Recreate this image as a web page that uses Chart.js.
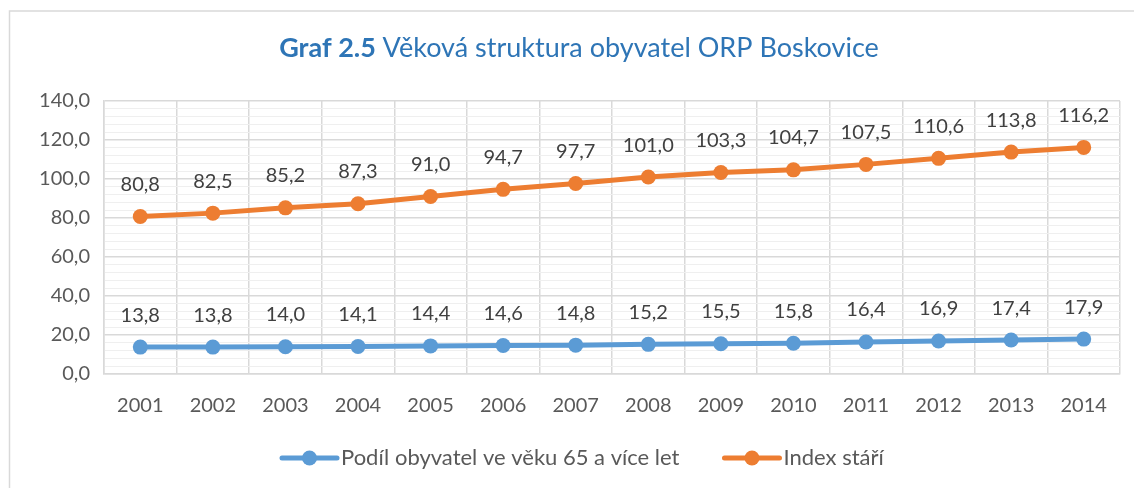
<!DOCTYPE html>
<html lang="cs">
<head>
<meta charset="utf-8">
<script src="https://cdn.jsdelivr.net/npm/chart.js@4"></script>
<style>
  html, body { margin: 0; padding: 0; background: #fff; }
  #wrap { width: 1134px; height: 488px; position: relative; }
</style>
</head>
<body>
<div id="wrap"><canvas id="graf" width="1134" height="488"></canvas></div>
<script>
// data z grafu
const roky = ["2001", "2002", "2003", "2004", "2005", "2006", "2007", "2008", "2009", "2010", "2011", "2012", "2013", "2014"];
const podil65 = [13.8, 13.8, 14.0, 14.1, 14.4, 14.6, 14.8, 15.2, 15.5, 15.8, 16.4, 16.9, 17.4, 17.9];
const indexStari = [80.8, 82.5, 85.2, 87.3, 91.0, 94.7, 97.7, 101.0, 103.3, 104.7, 107.5, 110.6, 113.8, 116.2];
const nazvyRad = ["Podíl obyvatel ve věku 65 a více let", "Index stáří"];
const titulekCislo = "Graf 2.5";
const titulekText = "Věková struktura obyvatel ORP Boskovice";

const modra = "#5B9BD5";
const oranzova = "#ED7D31";
const pismo = "Lato, 'Open Sans', sans-serif";
const fmt = (v) => v.toFixed(1).replace(".", ",");

// rámeček, titulek, popisky hodnot a legenda
const kresliDoplnky = {
  id: "doplnky",
  beforeDraw(chart) {
    const ctx = chart.ctx;
    ctx.save();
    ctx.strokeStyle = "#d9d9d9";
    ctx.lineWidth = 1.5;
    ctx.strokeRect(9.5, 11, 1140, 490);
    ctx.restore();
  },
  afterDatasetsDraw(chart) {
    const ctx = chart.ctx;
    ctx.save();
    // popisky hodnot nad body
    ctx.font = "20px " + pismo;
    ctx.fillStyle = "#404040";
    ctx.textAlign = "center";
    ctx.textBaseline = "middle";
    chart.data.datasets.forEach((ds, i) => {
      const meta = chart.getDatasetMeta(i);
      meta.data.forEach((pt, j) => {
        ctx.fillText(fmt(ds.data[j]), pt.x, pt.y - 32);
      });
    });
    ctx.restore();
  },
  afterDraw(chart) {
    const ctx = chart.ctx;
    ctx.save();
    // titulek
    ctx.textBaseline = "middle";
    ctx.fillStyle = "#2E75B6";
    ctx.font = "bold 27px " + pismo;
    const w1 = ctx.measureText(titulekCislo + " ").width;
    ctx.font = "27px " + pismo;
    const w2 = ctx.measureText(titulekText).width;
    let x = (280 + 878) / 2 - (w1 + w2) / 2;
    ctx.font = "bold 27px " + pismo;
    ctx.textAlign = "left";
    ctx.fillText(titulekCislo + " ", x, 48);
    ctx.font = "27px " + pismo;
    ctx.fillText(titulekText, x + w1, 48);

    // legenda
    ctx.font = "22px " + pismo;
    const barvy = [modra, oranzova];
    const delkaCary = 55;
    const mezera = 4;
    const rozestup = 45;
    let lx = 282;
    const ly = 458;
    nazvyRad.forEach((t, i) => {
      ctx.strokeStyle = barvy[i];
      ctx.lineWidth = 5;
      ctx.lineCap = "round";
      ctx.beginPath();
      ctx.moveTo(lx, ly);
      ctx.lineTo(lx + delkaCary, ly);
      ctx.stroke();
      ctx.fillStyle = barvy[i];
      ctx.beginPath();
      ctx.arc(lx + delkaCary / 2, ly, 7.5, 0, Math.PI * 2);
      ctx.fill();
      ctx.fillStyle = "#595959";
      ctx.fillText(t, lx + delkaCary + mezera, ly);
      lx += delkaCary + mezera + ctx.measureText(t).width + rozestup;
    });
    ctx.restore();
  },
};

new Chart(document.getElementById("graf"), {
  type: "line",
  data: {
    labels: roky,
    datasets: [
      {
        label: nazvyRad[0],
        data: podil65,
        borderColor: modra,
        backgroundColor: modra,
        borderWidth: 5,
        pointRadius: 7.5,
        pointHoverRadius: 7.5,
        pointBorderWidth: 0,
        tension: 0,
      },
      {
        label: nazvyRad[1],
        data: indexStari,
        borderColor: oranzova,
        backgroundColor: oranzova,
        borderWidth: 5,
        pointRadius: 7.5,
        pointHoverRadius: 7.5,
        pointBorderWidth: 0,
        tension: 0,
      },
    ],
  },
  options: {
    responsive: false,
    animation: false,
    layout: { padding: { left: 20, right: 14, top: 101, bottom: 58 } },
    plugins: {
      legend: { display: false },
      title: { display: false },
      tooltip: { enabled: false },
    },
    scales: {
      x: {
        offset: true,
        grid: { offset: true, color: "#d9d9d9", lineWidth: 1.5, drawTicks: false },
        border: { color: "#d9d9d9", width: 1.5 },
        ticks: { color: "#595959", font: { family: pismo, size: 20 }, padding: 20, maxRotation: 0, autoSkip: false },
        afterFit: (s) => { s.height = 56; },
      },
      y: {
        min: 0,
        max: 140,
        ticks: {
          stepSize: 4,
          autoSkip: false,
          color: "#595959",
          font: { family: pismo, size: 20 },
          padding: 14,
          callback: (v) => (v % 20 === 0 ? fmt(v) : ""),
        },
        grid: {
          drawTicks: false,
          color: (c) => (c.tick && c.tick.value % 20 === 0 ? "#d9d9d9" : "#efefef"),
          lineWidth: (c) => (c.tick && c.tick.value % 20 === 0 ? 1.5 : 1),
        },
        border: { color: "#d9d9d9", width: 1.5 },
        afterFit: (s) => { s.width = 84; },
      },
    },
  },
  plugins: [kresliDoplnky],
});
</script>
</body>
</html>
